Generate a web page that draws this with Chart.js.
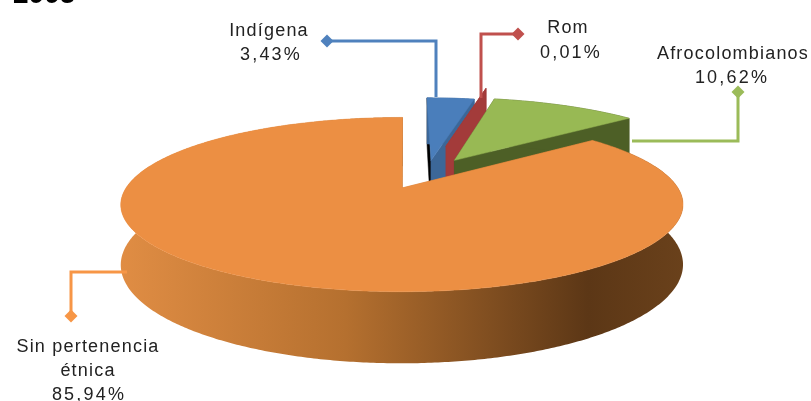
<!DOCTYPE html>
<html lang="es">
<head>
<meta charset="utf-8">
<title>Pertenencia étnica</title>
<script src="https://cdn.jsdelivr.net/npm/chart.js@4"></script>
<style>
  html, body { margin: 0; padding: 0; background: #fff; }
  #grafico { display: block; }
</style>
</head>
<body>
<canvas id="grafico" width="811" height="401"></canvas>
<script>
const categorias = ['Indígena', 'Rom', 'Afrocolombianos', 'Sin pertenencia étnica']
const porcentajes = [3.43, 0.01, 10.62, 85.94]
const colores = ['#4a7ebb', '#a33b3a', '#98b954', '#ec8f43']
const titulo = '2005'

// perspectiva del disco: el vertice de la porcion grande queda cerca de (x, y)
const vista = { x: 405, y: 188, ajusteGrande: -3, radioX: 276, radioY: 84, fuga: 0.19, alto: 58 }

// color de las caras de corte [inicio, fin] de cada porcion
const cortes = [['#000000', '#3c6798'], ['#a33b3a', '#a33b3a'], ['#4d5f26', '#4d5f26'], ['#c87a35', '#c87a35']]

const guias = [
  { color: '#4f81bd', puntos: [[327, 41], [436, 41], [436, 97]] },
  { color: '#c0504d', puntos: [[518, 34], [481, 34], [481, 98]] },
  { color: '#9bbb59', puntos: [[738, 92], [738, 141], [632, 141]] },
  { color: '#f79646', puntos: [[71, 316], [71, 272], [127, 272]] }
]

const textos = [
  [{ x: 269, y: 36 }, { x: 271, y: 60 }],
  [{ x: 568, y: 33 }, { x: 571, y: 58 }],
  [{ x: 733, y: 59 }, { x: 732, y: 83 }],
  [{ x: 88, y: 352 }, { x: 88, y: 376 }, { x: 89, y: 400 }]
]

function lineasEtiqueta(i) {
  const valor = porcentajes[i].toFixed(2).replace('.', ',') + '%'
  if (i === 3) return ['Sin pertenencia', 'étnica', valor]
  return [categorias[i], valor]
}

function desplazamiento(arco) {
  const medio = (arco.startAngle + arco.endAngle) / 2
  const d = (arco.options.offset || 0) / 4 / arco.outerRadius
  return { u: Math.cos(medio) * d, v: Math.sin(medio) * d }
}

function proyectar(u, v, z) {
  const s = 1 / (1 - vista.fuga * v)
  return [vista.x + vista.radioX * u * s, vista.y + vista.radioY * v * s + z * vista.alto * s]
}

function trazar(ctx, puntos, relleno) {
  ctx.beginPath()
  puntos.forEach((p, i) => i ? ctx.lineTo(p[0], p[1]) : ctx.moveTo(p[0], p[1]))
  ctx.closePath()
  ctx.fillStyle = relleno
  ctx.fill()
  ctx.strokeStyle = relleno
  ctx.lineWidth = 0.5
  if (typeof relleno === 'string') ctx.stroke()
}

function dibujarPorcion(ctx, arco, origen, i, gradiente) {
  const d = desplazamiento(arco)
  const cu = d.u - origen.u + (i === 3 ? vista.ajusteGrande / vista.radioX : 0)
  const cv = d.v - origen.v
  const angulos = []
  const pasos = Math.max(1, Math.ceil((arco.endAngle - arco.startAngle) / 0.01))
  for (let k = 0; k <= pasos; k++) {
    angulos.push(arco.startAngle + (arco.endAngle - arco.startAngle) * k / pasos)
  }
  const borde = z => angulos.map(a => proyectar(cu + Math.cos(a), cv + Math.sin(a), z))
  const vertice = z => proyectar(cu, cv, z)
  const arriba = borde(0)
  const abajo = borde(1)

  trazar(ctx, [vertice(0), arriba[0], abajo[0], vertice(1)], cortes[i][0])
  trazar(ctx, [vertice(0), arriba[arriba.length - 1], abajo[abajo.length - 1], vertice(1)], cortes[i][1])
  trazar(ctx, arriba.concat(abajo.slice().reverse()), i === 3 ? gradiente : cortes[i][1])
  trazar(ctx, [vertice(0)].concat(arriba), arco.options.backgroundColor)
}

const pastel3d = {
  id: 'pastel3d',
  beforeDatasetsDraw(chart) {
    const ctx = chart.ctx
    const arcos = chart.getDatasetMeta(0).data
    const origen = desplazamiento(arcos[3])

    const gradiente = ctx.createLinearGradient(120, 0, 684, 0)
    gradiente.addColorStop(0, '#e08d44')
    gradiente.addColorStop(0.4, '#b5702f')
    gradiente.addColorStop(0.83, '#5c3716')
    gradiente.addColorStop(1, '#6a411b')

    ctx.save()
    arcos.forEach((arco, i) => dibujarPorcion(ctx, arco, origen, i, gradiente))
    ctx.restore()
    return false
  },
  afterDraw(chart) {
    const ctx = chart.ctx
    ctx.save()
    guias.forEach(g => {
      ctx.strokeStyle = g.color
      ctx.lineWidth = 3
      ctx.lineJoin = 'miter'
      ctx.beginPath()
      g.puntos.forEach((p, i) => i ? ctx.lineTo(p[0], p[1]) : ctx.moveTo(p[0], p[1]))
      ctx.stroke()
      const [x, y] = g.puntos[0]
      ctx.fillStyle = g.color
      ctx.beginPath()
      ctx.moveTo(x - 6.5, y)
      ctx.lineTo(x, y - 6.5)
      ctx.lineTo(x + 6.5, y)
      ctx.lineTo(x, y + 6.5)
      ctx.closePath()
      ctx.fill()
    })

    ctx.fillStyle = '#222222'
    ctx.textAlign = 'center'
    ctx.textBaseline = 'alphabetic'
    ctx.font = '18px "Liberation Sans"'
    categorias.forEach((c, i) => {
      const lineas = lineasEtiqueta(i)
      lineas.forEach((linea, j) => {
        // los porcentajes van mas espaciados que los nombres
        ctx.letterSpacing = j === lineas.length - 1 ? '2.2px' : '1.2px'
        ctx.fillText(linea, textos[i][j].x, textos[i][j].y)
      })
    })

    ctx.fillStyle = '#000000'
    ctx.textAlign = 'left'
    ctx.letterSpacing = '0px'
    ctx.font = 'bold 28px "Liberation Sans"'
    ctx.fillText(titulo, 13, 3)
    ctx.restore()
  }
}

new Chart(document.querySelector('#grafico'), {
  type: 'pie',
  data: {
    labels: categorias,
    datasets: [{
      data: porcentajes,
      backgroundColor: colores,
      borderWidth: 0,
      offset: [135, 295, 160, 144]
    }]
  },
  options: {
    responsive: false,
    animation: false,
    events: [],
    radius: 190,
    plugins: { legend: { display: false }, tooltip: { enabled: false } }
  },
  plugins: [pastel3d]
})
</script>
</body>
</html>
